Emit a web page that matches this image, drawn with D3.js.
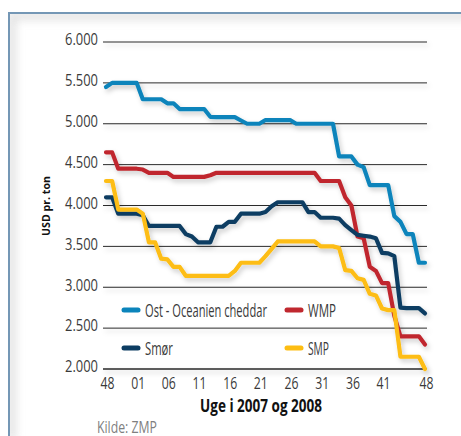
<!DOCTYPE html>
<html><head><meta charset="utf-8">
<script src="https://cdn.jsdelivr.net/npm/d3@7"></script>
<style>
html,body{margin:0;padding:0;background:#fff;}
svg{display:block;}
</style></head><body>
<svg id="chart" width="461" height="436"></svg>
<script>
// Weeks 48/2007 .. 48/2008
const weeks = ["48","49","50","51","52","01","02","03","04","05","06","07","08","09","10","11","12","13","14","15","16","17","18","19","20","21","22","23","24","25","26","27","28","29","30","31","32","33","34","35","36","37","38","39","40","41","42","43","44","45","46","47","48"];
const xTickIdx = [0,5,10,15,20,25,30,35,40,45,52];
const yTicks = [2000,2500,3000,3500,4000,4500,5000,5500,6000];

const cheddar = [5450,5500,5500,5500,5500,5500,5300,5300,5300,5300,5250,5250,5180,5180,5180,5180,5180,5085,5080,5080,5080,5080,5040,5000,5000,5000,5045,5045,5045,5045,5045,5000,5000,5000,5000,5000,5000,5000,4600,4600,4600,4500,4470,4250,4250,4250,4250,3870,3800,3650,3650,3300,3300];
const wmp = [4650,4650,4450,4450,4450,4450,4440,4400,4400,4400,4400,4350,4350,4350,4350,4350,4350,4370,4400,4400,4400,4400,4400,4400,4400,4400,4400,4400,4400,4400,4400,4400,4400,4400,4400,4300,4300,4300,4300,4100,4000,3620,3600,3250,3200,3050,3050,2650,2400,2400,2400,2400,2300];
const smor = [4100,4100,3900,3900,3900,3900,3880,3750,3750,3750,3750,3750,3750,3650,3620,3550,3550,3550,3740,3740,3800,3800,3900,3900,3900,3900,3920,3990,4040,4040,4040,4040,4040,3920,3920,3850,3850,3850,3840,3760,3700,3640,3630,3620,3600,3420,3414,3380,2750,2745,2745,2745,2680];
const smp = [4300,4300,3950,3950,3950,3950,3900,3550,3550,3350,3340,3250,3250,3140,3140,3140,3140,3140,3140,3140,3140,3200,3300,3300,3300,3300,3380,3470,3560,3560,3560,3560,3560,3560,3560,3500,3500,3500,3480,3210,3200,3110,3090,2920,2900,2740,2720,2720,2150,2150,2150,2150,2000];

const seriesNames = ["Ost - Oceanien cheddar","WMP","Smør","SMP"];
const seriesColors = ["#0b84bb","#c0282f","#0c3d62","#fdbd12"];
const seriesValues = [cheddar, wmp, smor, smp];

const font = "'Open Sans','Noto Sans',sans-serif";
const svg = d3.select("#chart");

// horizontally condense a text to a target width (scale about its own anchor point)
function fit(sel, target){
  sel.each(function(){
    const t = d3.select(this);
    const w = this.getComputedTextLength();
    if(!w) return;
    const s = target / w;
    const tx = +t.attr("x") || 0, ty = +t.attr("y") || 0;
    t.attr("x", tx / s).attr("transform", `scale(${s},1)`);
  });
}

const defs = svg.append("defs");
const f = defs.append("filter").attr("id","sh").attr("x","-10%").attr("y","-10%").attr("width","130%").attr("height","140%");
f.append("feDropShadow").attr("dx",2).attr("dy",3).attr("stdDeviation",2.5).attr("flood-color","#000").attr("flood-opacity",0.2);
const bl = defs.append("filter").attr("id","blur").attr("x","-50%").attr("y","-50%").attr("width","200%").attr("height","200%");
bl.append("feGaussianBlur").attr("stdDeviation",4);
defs.append("clipPath").attr("id","frameclip").append("rect").attr("x",10).attr("y",14).attr("width",460).attr("height",430);

// frame
svg.append("rect").attr("x",9).attr("y",13).attr("width",470).attr("height",440).attr("fill","#fff");
svg.append("g").attr("clip-path","url(#frameclip)")
  .append("path").attr("d","M12,440 L12,16 L470,16").attr("fill","none")
  .attr("stroke","#cfcfcf").attr("stroke-width",8).attr("filter","url(#blur)").attr("opacity",0.6);
svg.append("rect").attr("x",9).attr("y",13).attr("width",470).attr("height",440)
  .attr("fill","none").attr("stroke","#7497b5").attr("stroke-width",2);

const x = d3.scaleLinear().domain([0, weeks.length-1]).range([106, 425]);
const y = d3.scaleLinear().domain([2000, 6000]).range([369, 42]);

const loc = d3.formatLocale({decimal:",", thousands:".", grouping:[3], currency:["",""]});
const fmt = loc.format(",");

// grid
const grid = svg.append("g").attr("filter","url(#sh)");
grid.selectAll("line").data(yTicks).join("line")
  .attr("x1",103).attr("x2",427)
  .attr("y1",d=>y(d)).attr("y2",d=>y(d))
  .attr("stroke","#2a2a2a").attr("stroke-width",d=>d===2000?1.5:1);

// y axis labels
const yAxis = d3.axisLeft(y).tickValues(yTicks).tickFormat(fmt).tickSize(0).tickPadding(0);
const gy = svg.append("g").attr("transform","translate(98,-2.6)").call(yAxis);
gy.select(".domain").remove();
gy.selectAll("text").attr("font-family",font).attr("font-size",17).attr("fill","#3a3a3a").call(fit,33);

// x axis labels
const xAxis = d3.axisBottom(x).tickValues(xTickIdx).tickFormat(i=>weeks[i]).tickSize(0).tickPadding(0);
const gx = svg.append("g").attr("transform","translate(1,378)").call(xAxis);
gx.select(".domain").remove();
gx.selectAll("text").attr("font-family",font).attr("font-size",16).attr("fill","#3a3a3a").call(fit,14);

// lines
const line = d3.line().x((d,i)=>x(i)).y(d=>y(d));
const lg = svg.append("g").attr("filter","url(#sh)");
[0,1,2,3].forEach(k=>{
  lg.append("path").datum(seriesValues[k]).attr("d",line)
    .attr("fill","none").attr("stroke",seriesColors[k]).attr("stroke-width",4.2)
    .attr("stroke-linejoin","round").attr("stroke-linecap","round");
});

// legend
const legPos = [[122,310],[285,310],[122,348],[285,348]];
const legW = [122,28,28,21];
const leg = svg.append("g");
seriesNames.forEach((n,k)=>{
  const [lx,ly] = legPos[k];
  leg.append("line").attr("x1",lx+2).attr("x2",lx+16).attr("y1",ly).attr("y2",ly)
    .attr("stroke",seriesColors[k]).attr("stroke-width",5).attr("stroke-linecap","round");
  leg.append("g").attr("transform",`translate(${lx+23},${ly+6.5})`)
    .append("text").text(n)
    .attr("font-family",font).attr("font-size",18).attr("fill","#3a3a3a").call(fit,legW[k]);
});

// titles
svg.append("g").attr("transform","translate(261,412)").append("text").attr("text-anchor","middle")
  .attr("font-family",font).attr("font-weight","bold").attr("font-size",17).attr("fill","#111")
  .text("Uge i 2007 og 2008").call(fit,122);
svg.append("g").attr("transform","translate(97,432.5)").append("text")
  .attr("font-family",font).attr("font-size",16).attr("fill","#7f7f7f")
  .text("Kilde: ZMP").call(fit,60);
svg.append("g").attr("transform","translate(50,206) rotate(-90)").append("text").attr("text-anchor","middle")
  .attr("font-family",font).attr("font-weight","bold").attr("font-size",10).attr("fill","#111")
  .text("USD pr. ton").call(fit,60);
</script>
</body></html>
